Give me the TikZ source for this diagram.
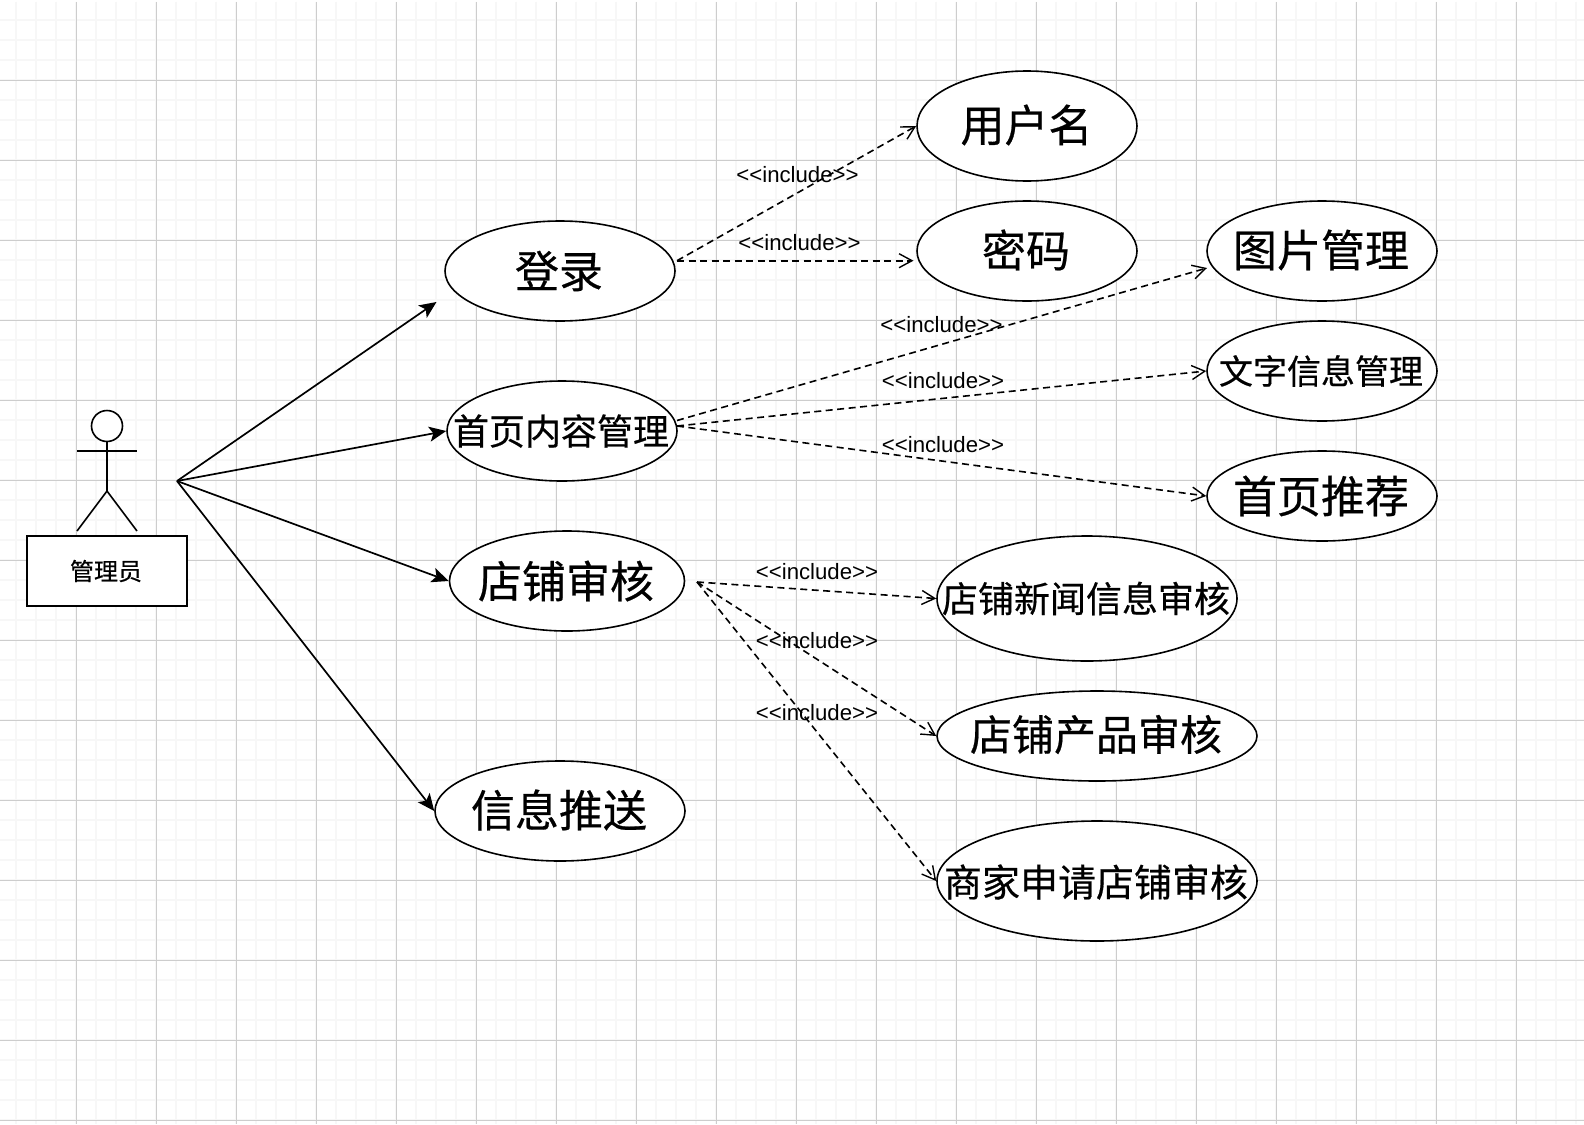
\documentclass[tikz,border=0pt]{standalone}
\usepackage{fontspec}
\setmainfont{Liberation Sans}
\newfontfamily\cjk[RawFeature={embolden=0.5}]{Noto Sans CJK SC}
\usetikzlibrary{arrows.meta,shapes.geometric}
\definecolor{minorgrid}{HTML}{F7F7F7}
\definecolor{majorgrid}{HTML}{CDCDCD}
\newcommand{\fsz}[1]{\fontsize{#1}{#1}\selectfont}
\tikzset{
  ink/.style={line width=1.6pt,black},
  usecase/.style={ellipse,draw,ink,fill=white,inner sep=0pt},
  assoc/.style={line width=1.7pt,black,-{Stealth[length=17pt,width=15pt,inset=4pt]}},
  incl/.style={line width=1.6pt,black,dash pattern=on 7pt off 4.5pt,-{Straight Barb[length=13pt,width=14pt,line width=1.4pt]}},
  tag/.style={inner sep=0pt,font=\fontsize{22.2}{22.2}\selectfont},
}
% \ucase[label options]{name}{cx}{cy}{w}{h}{size}{text}
\newcommand{\ucase}[8][]{%
  \node[usecase,minimum width=#5pt,minimum height=#6pt,
        label={[name=#2-t,inner sep=0pt,xshift=-1pt,#1,font=\cjk\fsz{#7}]center:#8}] (#2) at (#3,#4) {};}
\begin{document}
\begin{tikzpicture}[x=1pt,y=-1pt]
\useasboundingbox (0,0) rectangle (1584,1124);
\fill[white] (0,0) rectangle (1584,1124);
% grid
\foreach \i in {0,...,78} \draw[minorgrid,line width=1.6pt] ({16+20*\i},2) -- ({16+20*\i},1124);
\foreach \j in {1,...,56} \draw[minorgrid,line width=1.6pt] (0,{20*\j}) -- (1584,{20*\j});
\foreach \i in {0,...,18} \draw[majorgrid,line width=1pt] ({76.5+80*\i},2) -- ({76.5+80*\i},1124);
\foreach \j in {1,...,14} \draw[majorgrid,line width=1pt] (0,{80*\j}) -- (1584,{80*\j});
% actor
\node[circle,draw,ink,fill=white,minimum size=31pt,inner sep=0pt] (head) at (107,426) {};
\coordinate (hip) at (107,491);
\coordinate (armL) at (77,451);
\coordinate (armR) at (137,451);
\coordinate (footL) at (77,531);
\coordinate (footR) at (137,531);
\draw[ink] (head.south) -- (hip);
\draw[ink] (armL) -- (armR);
\draw[ink] (footL) -- (hip) -- (footR);
\node[draw,ink,fill=white,minimum width=160pt,minimum height=70pt,inner sep=0pt,font=\cjk\fsz{24}] (admin) at (107,571) {\raisebox{-1pt}{\hspace{-2pt}管理员}};
% use cases
\ucase{login}{560}{271}{230}{100}{44}{登录}
\ucase{home}{562}{431}{230}{100}{36}{首页内容管理}
\ucase{shop}{567}{581}{235}{100}{44}{店铺审核}
\ucase[yshift=1pt]{push}{560}{811}{250}{100}{44}{信息推送}
\ucase[xshift=0.5pt,yshift=1pt]{user}{1027}{126}{220}{110}{44}{用户名}
\ucase[yshift=1pt]{pwd}{1027}{251}{220}{100}{44}{密码}
\ucase[yshift=1pt]{pic}{1322}{251}{230}{100}{44}{图片管理}
\ucase{txt}{1322}{371}{230}{100}{34}{文字信息管理}
\ucase{rec}{1322}{496}{230}{90}{44}{首页推荐}
\ucase{news}{1087}{598.5}{300}{125}{36}{店铺新闻信息审核}
\ucase[yshift=1.5pt]{prod}{1097}{736}{320}{90}{42}{店铺产品审核}
\ucase[yshift=-1pt]{apply}{1097}{881}{320}{120}{38}{商家申请店铺审核}
% free connector ends
\coordinate (hub) at (177,481);
\coordinate (loginIn) at (436.5,302);
\coordinate (loginOut) at (677,260.7);
\coordinate (pwdIn) at (913.5,260.7);
\coordinate (homeOutA) at (677,420.5);
\coordinate (homeOutB) at (677,426);
\coordinate (picIn) at (1207,268);
\coordinate (shopOut) at (697,582);
% associations
\draw[assoc] (hub) -- (loginIn);
\draw[assoc] (hub) -- (home.west);
\draw[assoc] (hub) -- (shop.west);
\draw[assoc] (hub) -- (push.west);
% includes
\draw[incl] (loginOut) -- (user.west);
\draw[incl] (loginOut) -- (pwdIn);
\draw[incl] (homeOutA) -- (picIn);
\draw[incl] (homeOutB) -- (txt.west);
\draw[incl] (homeOutB) -- (rec.west);
\draw[incl] (shopOut) -- (news.west);
\draw[incl] (shopOut) -- (prod.west);
\draw[incl] (shopOut) -- (apply.west);
% labels
\node[tag] (t1) at (797.5,175) {<{}<include>{}>};
\node[tag] (t2) at (799.5,243) {<{}<include>{}>};
\node[tag] (t3) at (941.5,325) {<{}<include>{}>};
\node[tag] (t4) at (943,381) {<{}<include>{}>};
\node[tag] (t5) at (943,444.7) {<{}<include>{}>};
\node[tag] (t6) at (817,571.2) {<{}<include>{}>};
\node[tag] (t7) at (817,641) {<{}<include>{}>};
\node[tag] (t8) at (817,713) {<{}<include>{}>};
\end{tikzpicture}
\end{document}
